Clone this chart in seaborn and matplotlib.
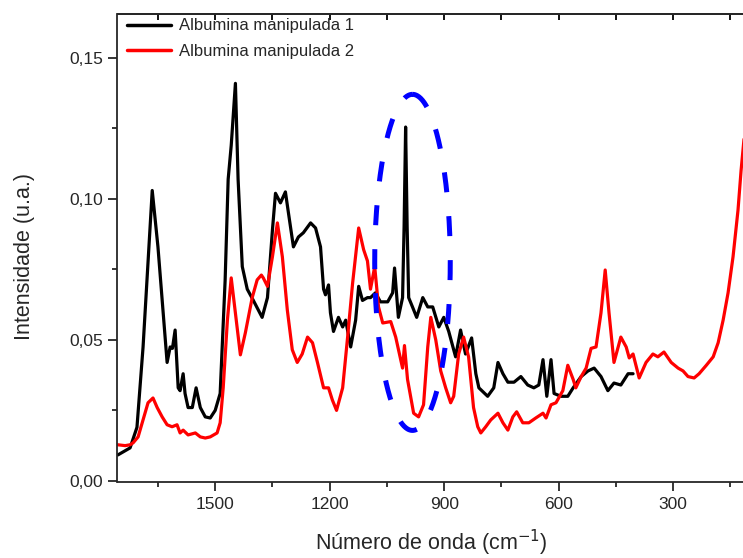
import numpy as np
import pandas as pd
import matplotlib
matplotlib.use("Agg")
import matplotlib.pyplot as plt
import seaborn as sns
from matplotlib.ticker import FuncFormatter, MultipleLocator
from matplotlib.lines import Line2D

# ---- data ----
wn1 = [1755, 1723, 1705, 1689, 1665, 1650, 1626, 1618, 1612, 1605, 1597, 1592, 1584, 1579, 1571, 1560,
       1550, 1539, 1526, 1513, 1500, 1487, 1474, 1466, 1458, 1447, 1440, 1429, 1416, 1400, 1377, 1363,
       1350, 1342, 1329, 1316, 1308, 1295, 1282, 1269, 1250, 1237, 1224, 1216, 1211, 1203, 1198, 1190,
       1177, 1166, 1158, 1145, 1132, 1124, 1114, 1101, 1093, 1080, 1067, 1048, 1035, 1030, 1020, 1009,
       1005, 1001, 997, 993, 983, 972, 956, 943, 930, 914, 901, 888, 870, 857, 844, 828, 817, 809, 786,
       770, 759, 746, 733, 717, 699, 681, 665, 652, 641, 631, 620, 612, 594, 576, 562, 541, 523, 507,
       489, 471, 455, 437, 418, 405]
int1 = [0.0092, 0.0117, 0.019, 0.0475, 0.103, 0.083, 0.042, 0.0475, 0.047, 0.0535, 0.033, 0.032, 0.038,
        0.031, 0.026, 0.026, 0.033, 0.026, 0.0227, 0.0223, 0.025, 0.031, 0.071, 0.107, 0.119, 0.141, 0.107,
        0.076, 0.068, 0.064, 0.058, 0.065, 0.089, 0.102, 0.0986, 0.1025, 0.095, 0.083, 0.0865, 0.088,
        0.0915, 0.0897, 0.083, 0.068, 0.066, 0.0695, 0.0596, 0.053, 0.058, 0.0546, 0.057, 0.0475, 0.057,
        0.069, 0.064, 0.065, 0.065, 0.0667, 0.0635, 0.0635, 0.0667, 0.0755, 0.058, 0.065, 0.09, 0.1255,
        0.09, 0.065, 0.0617, 0.058, 0.065, 0.0617, 0.0617, 0.0546, 0.058, 0.053, 0.044, 0.0535, 0.045,
        0.0507, 0.038, 0.033, 0.030, 0.033, 0.042, 0.038, 0.035, 0.035, 0.037, 0.034, 0.033, 0.034, 0.043,
        0.030, 0.043, 0.031, 0.030, 0.030, 0.033, 0.037, 0.039, 0.040, 0.037, 0.032, 0.0347, 0.034, 0.038,
        0.038]

wn2 = [1755, 1736, 1723, 1715, 1702, 1689, 1676, 1663, 1652, 1639, 1626, 1613, 1600, 1592, 1584, 1571,
       1552, 1539, 1526, 1513, 1495, 1487, 1479, 1468, 1458, 1447, 1434, 1421, 1403, 1390, 1379, 1374,
       1363, 1350, 1337, 1324, 1311, 1298, 1285, 1272, 1258, 1245, 1232, 1216, 1203, 1193, 1182, 1166,
       1153, 1140, 1124, 1111, 1101, 1093, 1082, 1072, 1061, 1040, 1027, 1009, 1004, 996, 980, 967, 954,
       943, 935, 922, 909, 896, 883, 875, 862, 849, 836, 823, 812, 804, 791, 778, 759, 746, 733, 720, 710,
       694, 678, 660, 641, 633, 620, 607, 589, 576, 562, 555, 541, 528, 515, 502, 489, 478, 468, 455, 437,
       423, 415, 405, 389, 371, 353, 340, 324, 305, 287, 274, 261, 245, 232, 213, 195, 182, 169, 156, 143,
       130, 122, 114]
int2 = [0.0128, 0.0125, 0.0128, 0.0135, 0.0156, 0.0216, 0.0277, 0.0294, 0.026, 0.0227, 0.0199, 0.0192,
        0.0199, 0.017, 0.018, 0.0163, 0.017, 0.0156, 0.0152, 0.0156, 0.017, 0.0206, 0.033, 0.057, 0.072,
        0.0596, 0.0447, 0.0525, 0.065, 0.0713, 0.073, 0.072, 0.069, 0.0795, 0.0915, 0.0795, 0.0606, 0.0465,
        0.042, 0.045, 0.051, 0.049, 0.042, 0.033, 0.033, 0.0287, 0.025, 0.033, 0.051, 0.070, 0.0897, 0.082,
        0.078, 0.068, 0.076, 0.0617, 0.056, 0.0565, 0.051, 0.040, 0.048, 0.036, 0.024, 0.0227, 0.027,
        0.0475, 0.058, 0.050, 0.039, 0.033, 0.0277, 0.030, 0.045, 0.051, 0.044, 0.026, 0.0192, 0.017,
        0.0192, 0.0216, 0.024, 0.0206, 0.018, 0.0227, 0.0245, 0.0206, 0.0206, 0.0223, 0.024, 0.0223, 0.027,
        0.0277, 0.032, 0.041, 0.036, 0.033, 0.037, 0.040, 0.047, 0.0475, 0.0596, 0.0748, 0.0596, 0.042,
        0.051, 0.0475, 0.0436, 0.045, 0.0365, 0.042, 0.045, 0.044, 0.0457, 0.042, 0.040, 0.039, 0.037,
        0.0365, 0.038, 0.041, 0.044, 0.049, 0.057, 0.0667, 0.0795, 0.096, 0.110, 0.1216]

labels = ["Albumina manipulada 1", "Albumina manipulada 2"]
colors = ["#000000", "#ff0000"]

# highlight ellipse (center wavenumber, center intensity, half-width, half-height)
ell_center = (983, 0.0775)
ell_half = (99, 0.0596)

df = pd.concat([
    pd.DataFrame({"wn": wn1, "I": int1, "serie": labels[0]}),
    pd.DataFrame({"wn": wn2, "I": int2, "serie": labels[1]}),
], ignore_index=True)

sns.set_style("ticks")
plt.rcParams["font.family"] = ["Liberation Sans", "DejaVu Sans"]

fig = plt.figure(figsize=(7.43, 5.58), dpi=100)
ax = fig.add_axes([117.5 / 743, 1 - 482 / 558, 1 - 117.5 / 743 + 0.002, (482 - 14) / 558])

sns.lineplot(data=df, x="wn", y="I", hue="serie", palette=colors, sort=False,
             estimator=None, linewidth=2.3, ax=ax, legend=False)

# dashed ellipse
t = np.linspace(0.5 * np.pi, 2.5 * np.pi, 400)
ax.plot(ell_center[0] + ell_half[0] * np.cos(t), ell_center[1] + ell_half[1] * np.sin(t),
        color="#0000ff", lw=3.6, dashes=(4, 4.8), dash_capstyle="butt")

ax.set_xlim(1756, 113)
ax.set_ylim(-0.0004, 0.1656)

ax.xaxis.set_major_locator(MultipleLocator(300))
ax.xaxis.set_minor_locator(MultipleLocator(150))
ax.yaxis.set_major_locator(MultipleLocator(0.05))
ax.yaxis.set_minor_locator(MultipleLocator(0.025))
ax.yaxis.set_major_formatter(FuncFormatter(lambda v, p: f"{v:.2f}".replace(".", ",")))

ax.tick_params(axis="both", which="major", direction="out", length=6.5, width=1.3,
               labelsize=12.5, pad=4)
ax.tick_params(axis="both", which="minor", direction="out", length=3.5, width=1.3)

# inward ticks on the top spine
top = ax.secondary_xaxis("top")
top.xaxis.set_major_locator(MultipleLocator(300))
top.xaxis.set_minor_locator(MultipleLocator(150))
top.tick_params(which="both", direction="in", length=4, width=1.3, labeltop=False, color="black")
top.spines["top"].set_linewidth(1.3)

for s in ["left", "bottom", "top"]:
    ax.spines[s].set_linewidth(1.3)
ax.spines["right"].set_visible(False)

ax.set_xlabel("Número de onda (cm$^{-1}$)", fontsize=15.5, labelpad=12)
ax.set_ylabel("Intensidade (u.a.)", fontsize=15.5)
ax.yaxis.set_label_coords(-0.131, 0.481)

handles = [Line2D([], [], color=c, lw=2.5) for c in colors]
ax.legend(handles, labels, loc="upper left", frameon=False, fontsize=12,
          handlelength=2.6, handletextpad=0.5, borderaxespad=0.2, labelspacing=0.65,
          bbox_to_anchor=(0.0, 1.012))

fig.savefig("out.png", dpi=100)
